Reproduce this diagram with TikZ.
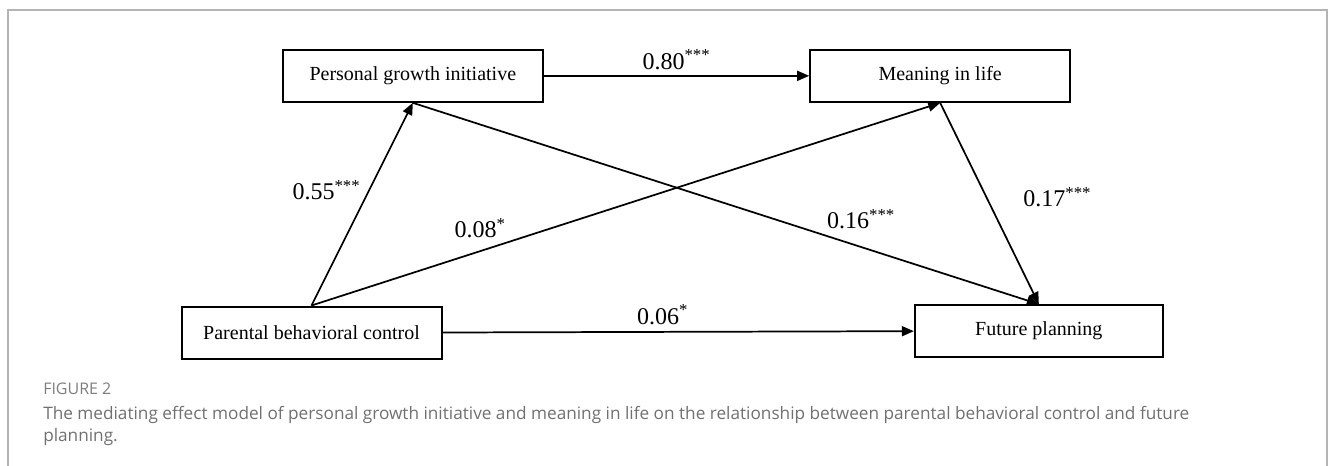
\documentclass[tikz,border=0pt]{standalone}
\usepackage{fontspec}
\setmainfont{Liberation Serif}
\newfontfamily\capfont{Open Sans}
\usetikzlibrary{positioning, arrows.meta}

\definecolor{framegray}{HTML}{B4B4B4}
\definecolor{capgray}{HTML}{707070}

\begin{document}
\begin{tikzpicture}[
    x=0.75pt, y=-0.75pt,
    node distance = 150pt and 199pt,
    box/.style = {rectangle, draw, line width=1.5pt, minimum width=195pt, minimum height=39pt, inner sep=0pt, font=\fontsize{15}{18}\selectfont},
    arrow/.style = {-{Triangle[length=9pt, width=7.5pt]}, line width=1.3pt},
    coef/.style = {font=\fontsize{18}{21}\selectfont, inner sep=1pt}
]
    \useasboundingbox (0,0) rectangle (1333,465);
    % outer frame of the figure
    \draw[framegray, line width=0.9pt] (8,480) -- (8,10) -- (1327,10) -- (1327,480);

    \node[box] (PBC) at (311.5,332.5) {Parental behavioral control};
    \node[box, above=152pt of PBC, xshift=76pt] (PGI) {Personal growth initiative};
    \node[box, right=of PGI] (MIL) {Meaning in life};
    \node[box, below=151pt of MIL, xshift=74pt, minimum width=186pt] (FP) {Future planning};

    \draw[arrow] (PGI) -- node[coef, above=3pt] (c80) {0.80\textsuperscript{***}} (MIL);
    \draw[arrow] (PBC.north) -- node[coef, pos=0.57, left=5pt] (c55) {0.55\textsuperscript{***}} (PGI.south);
    \draw[arrow] (PBC.north) -- node[coef, pos=0.27, above left=8pt and -20pt] (c08) {0.08\textsuperscript{*}} (MIL.south);
    \draw[arrow] (PGI.south) -- node[coef, pos=0.716, above=12pt] (c16) {0.16\textsuperscript{***}} (FP.north);
    \draw[arrow] (MIL.south) -- node[coef, pos=0.47, right=26pt] (c17) {0.17\textsuperscript{***}} (FP.north);
    \draw[arrow] (PBC.east) -- node[coef, pos=0.467, above=4pt] (c06) {0.06\textsuperscript{*}} (FP.west);

    % caption
    \node[anchor=base west, inner sep=0pt, text=capgray!90, font=\capfont\fontsize{12}{14}\selectfont] (fig) at (43,394) {FIGURE 2};
    \node[anchor=base west, inner sep=0pt, text=capgray, font=\capfont\fontsize{12.9}{15}\selectfont] (cap1) at (43,419) {The mediating effect model of personal growth initiative and meaning in life on the relationship between parental behavioral control and future};
    \node[anchor=base west, inner sep=0pt, text=capgray, font=\capfont\fontsize{12.9}{15}\selectfont] (cap2) at (43,441) {planning.};
\end{tikzpicture}
\end{document}
